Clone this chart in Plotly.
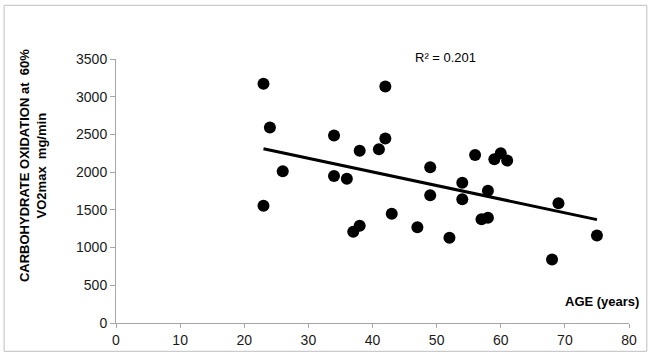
import numpy as np
import plotly.graph_objects as go

age = [23, 42, 24, 34, 42, 38, 41, 26, 34, 36, 23, 43, 38, 37, 49, 49, 47, 52,
       54, 54, 56, 58, 57, 58, 59, 60, 61, 69, 75, 68]
cho = [3172, 3136, 2591, 2485, 2445, 2285, 2304, 2012, 1949, 1913, 1555, 1448,
       1289, 1209, 2065, 1693, 1268, 1129, 1860, 1640, 2228, 1754, 1374, 1395,
       2171, 2251, 2153, 1587, 1161, 842]
x_ticks = [0, 10, 20, 30, 40, 50, 60, 70, 80]
y_ticks = [0, 500, 1000, 1500, 2000, 2500, 3000, 3500]

slope, intercept = np.polyfit(age, cho, 1)
fit_x = [min(age), max(age)]
fit_y = [slope * v + intercept for v in fit_x]

W, H = 650, 355
L, R_, T, B = 116, 20.5, 59, 32
pw, ph = W - L - R_, H - T - B

def px(x):
    return (x - L) / pw

def py(y):
    return (H - B - y) / ph

fig = go.Figure()
fig.add_trace(go.Scatter(x=fit_x, y=fit_y, mode="lines",
                         line=dict(color="black", width=3), hoverinfo="skip"))
fig.add_trace(go.Scatter(x=age, y=cho, mode="markers",
                         marker=dict(color="black", size=12)))

axis_font = dict(family="Liberation Sans, Arial, sans-serif", size=14, color="#1a1a1a")
fig.update_xaxes(range=[0, 80], tickvals=x_ticks, ticktext=[str(v) for v in x_ticks],
                 showgrid=False, zeroline=False, showline=True, linecolor="#a6a6a6",
                 linewidth=1, ticks="outside", ticklen=4, tickcolor="#a6a6a6",
                 tickfont=axis_font, automargin=False)
fig.update_yaxes(range=[0, 3500], tickvals=y_ticks, ticktext=[str(v) for v in y_ticks],
                 showgrid=False, zeroline=False, showline=True, linecolor="#a6a6a6",
                 linewidth=1, ticks="outside", ticklen=5, tickcolor="#a6a6a6",
                 tickfont=axis_font, automargin=False)

fig.add_annotation(x=px(33), y=py(166), xref="paper", yref="paper",
                   text="<b>CARBOHYDRATE OXIDATION at  60%<br>VO2max  mg/min</b>",
                   textangle=-90, showarrow=False, xanchor="center", yanchor="middle",
                   font=dict(family="Liberation Sans, Arial, sans-serif", size=13, color="black"))
fig.add_annotation(x=px(642), y=py(301), xref="paper", yref="paper",
                   text="<b>AGE (years)</b>", showarrow=False,
                   xanchor="right", yanchor="middle",
                   font=dict(family="Liberation Sans, Arial, sans-serif", size=13, color="black"))
fig.add_annotation(x=px(446), y=py(58), xref="paper", yref="paper",
                   text="R² = 0.201", showarrow=False,
                   xanchor="center", yanchor="middle",
                   font=dict(family="Liberation Sans, Arial, sans-serif", size=13, color="black"))

fig.add_shape(type="rect", xref="paper", yref="paper",
              x0=px(4), x1=px(647.3), y0=py(351.3), y1=py(5.3),
              line=dict(color="#bfbfbf", width=1), fillcolor="rgba(0,0,0,0)", layer="below")

fig.update_layout(width=W, height=H, margin=dict(l=L, r=R_, t=T, b=B, pad=0, autoexpand=False),
                  paper_bgcolor="white", plot_bgcolor="white", showlegend=False)

fig.write_html("out.html", config={"displayModeBar": False},
               post_script="document.body.style.margin='0';document.body.style.overflow='hidden';")
